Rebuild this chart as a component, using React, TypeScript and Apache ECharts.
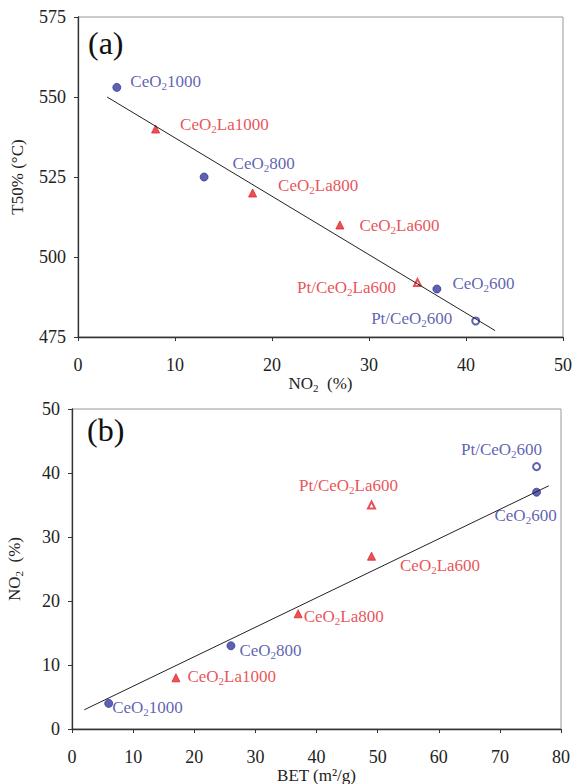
import React, { useEffect, useRef } from "react";
import * as echarts from "echarts";

// ---- data ----
const sampleNames = [
  "CeO₂1000",
  "CeO₂La1000",
  "CeO₂800",
  "CeO₂La800",
  "CeO₂La600",
  "Pt/CeO₂La600",
  "CeO₂600",
  "Pt/CeO₂600",
];
const sampleKinds = ["ceria", "ceriaLa", "ceria", "ceriaLa", "ceriaLa", "ptCeriaLa", "ceria", "ptCeria"];
const no2Values = [4, 8, 13, 18, 27, 35, 37, 41];
const t50Values = [553, 540, 525, 520, 510, 492, 490, 480];
const betValues = [6, 17, 26, 37, 49, 49, 76, 76];
const trendA = [
  [3, 550],
  [43, 477],
];
const trendB = [
  [2, 3],
  [78, 38],
];
const axisA = { xMin: 0, xMax: 50, xStep: 10, yMin: 475, yMax: 575, yStep: 25 };
const axisB = { xMin: 0, xMax: 80, xStep: 10, yMin: 0, yMax: 50, yStep: 10 };

// ---- layout / styles ----
const labelLayoutA: [string, number, number][] = [
  ["right", 4, -6],
  ["right", 15, -5],
  ["right", 19, -14],
  ["right", 16, -8],
  ["right", 10, 0],
  ["left", -12, 5],
  ["right", 6, -6],
  ["left", -14, -3],
];
const labelLayoutB: [string, number, number][] = [
  ["right", -6, 4],
  ["right", 2, -1],
  ["right", -1, 5],
  ["right", -4, 3],
  ["right", 19, 9],
  ["top", -23, 0],
  ["bottom", -11, 4],
  ["top", -35, 2],
];

const FONT = "'Liberation Serif', 'DejaVu Serif', serif";
const BLUE = "#36399c";
const RED = "#e2262c";
const TEXT = "#222";

const kindStyle: Record<string, any> = {
  ceria: { symbol: "circle", symbolSize: 8, color: BLUE },
  ceriaLa: { symbol: "triangle", symbolSize: 8, color: RED },
  ptCeria: { symbol: "emptyCircle", symbolSize: 7, color: BLUE },
  ptCeriaLa: { symbol: "emptyTriangle", symbolSize: 7, color: RED },
};

const richSub = {
  s: { fontSize: 11, fontFamily: FONT, padding: [9, 0, 0, 0] },
};

function toRich(name: string) {
  return name.replace(/₂/g, "{s|2}");
}

function buildPoints(xs: number[], ys: number[], layout: [string, number, number][]) {
  return xs.map((x, i) => {
    const st = kindStyle[sampleKinds[i]];
    const [pos, dx, dy] = layout[i];
    return {
      name: sampleNames[i],
      value: [x, ys[i]],
      symbol: st.symbol,
      symbolSize: st.symbolSize,
      itemStyle: { color: st.color, borderColor: st.color, borderWidth: 1 },
      label: {
        show: true,
        position: pos,
        distance: 5,
        offset: [dx, dy],
        color: st.color,
        fontFamily: FONT,
        fontSize: 17,
        formatter: (p: any) => toRich(p.name),
        rich: {
          s: { ...richSub.s, color: st.color },
        },
      },
    };
  });
}

function valueAxis(
  gridIndex: number,
  min: number,
  max: number,
  step: number,
  name: string,
  nameGap: number,
  vertical: boolean
) {
  return {
    type: "value",
    gridIndex,
    min,
    max,
    interval: step,
    name,
    nameLocation: "middle",
    nameGap,
    nameRotate: vertical ? 90 : 0,
    nameTextStyle: {
      fontFamily: FONT,
      fontSize: 17,
      color: TEXT,
      rich: { s: { ...richSub.s, color: TEXT } },
    },
    axisLine: { show: true, onZero: false, lineStyle: { color: "#333", width: 1.3 } },
    axisTick: { show: true, inside: false, length: 4, lineStyle: { color: "#333" } },
    axisLabel: { fontFamily: FONT, fontSize: 18, color: TEXT, margin: vertical ? 12 : 19 },
    splitLine: { show: false },
  };
}

export default function App() {
  const ref = useRef<HTMLDivElement>(null);
  useEffect(() => {
    if (!ref.current) return;
    const chart = echarts.init(ref.current, undefined, { renderer: "svg" });
    chart.setOption({
      animation: false,
      backgroundColor: "#fff",
      textStyle: { fontFamily: FONT },
      grid: [
        {
          left: 78,
          top: 17,
          width: 485,
          height: 320,
          show: true,
          borderColor: "#999",
          borderWidth: 1,
          containLabel: false,
          outerBoundsMode: "none",
        },
        {
          left: 72,
          top: 409,
          width: 489,
          height: 320,
          show: true,
          borderColor: "#999",
          borderWidth: 1,
          containLabel: false,
          outerBoundsMode: "none",
        },
      ],
      xAxis: [
        valueAxis(0, axisA.xMin, axisA.xMax, axisA.xStep, "NO{s|2}  (%)", 31, false),
        valueAxis(1, axisB.xMin, axisB.xMax, axisB.xStep, "BET (m²/g)", 33, false),
      ],
      yAxis: [
        valueAxis(0, axisA.yMin, axisA.yMax, axisA.yStep, "T50% (°C)", 52, true),
        valueAxis(1, axisB.yMin, axisB.yMax, axisB.yStep, "NO{s|2}  (%)", 48, true),
      ],
      graphic: [
        { type: "text", left: 88, top: 27, style: { text: "(a)", fontFamily: FONT, fontSize: 32, fill: "#111" } },
        { type: "text", left: 87, top: 414, style: { text: "(b)", fontFamily: FONT, fontSize: 32, fill: "#111" } },
      ],
      series: [
        {
          type: "line",
          xAxisIndex: 0,
          yAxisIndex: 0,
          data: trendA,
          symbol: "none",
          lineStyle: { color: "#222", width: 1 },
          silent: true,
        },
        {
          type: "scatter",
          xAxisIndex: 0,
          yAxisIndex: 0,
          data: buildPoints(no2Values, t50Values, labelLayoutA),
        },
        {
          type: "line",
          xAxisIndex: 1,
          yAxisIndex: 1,
          data: trendB,
          symbol: "none",
          lineStyle: { color: "#222", width: 1 },
          silent: true,
        },
        {
          type: "scatter",
          xAxisIndex: 1,
          yAxisIndex: 1,
          data: buildPoints(betValues, no2Values, labelLayoutB),
        },
      ],
    });
    return () => chart.dispose();
  }, []);
  return (
    <div
      ref={ref}
      style={{ position: "absolute", left: 0, top: 0, width: 573, height: 784, background: "#fff" }}
    />
  );
}
